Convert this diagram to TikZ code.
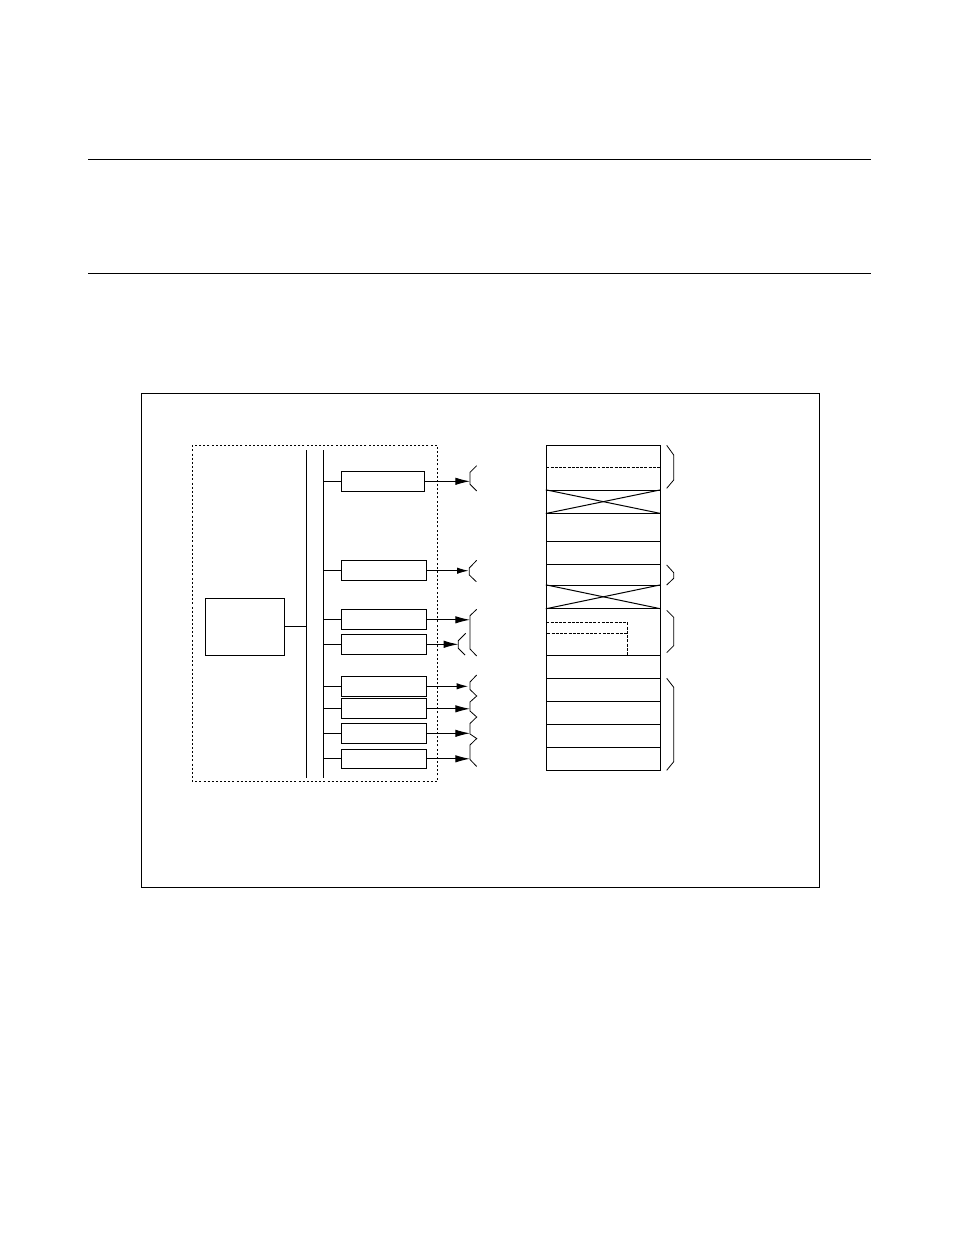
\documentclass[tikz,border=0pt]{standalone}
\usetikzlibrary{arrows.meta,fit}
\begin{document}
\begin{tikzpicture}[x=0.75pt,y=-0.75pt,line width=0.75pt,
  box/.style={draw,inner sep=0pt,line width=0.75pt},
  cell/.style={draw,inner sep=0pt,line width=0.75pt},
  bigarrow/.style={-{Latex[length=11pt,width=5.6pt]}},
  smallarrow/.style={-{Latex[length=8.5pt,width=4.8pt]}},
  ctrldash/.style={dash pattern=on 1.5pt off 1.6pt},
  memdash/.style={dash pattern=on 2.2pt off 1pt},
  plug/.style={line width=0.6pt}]
\useasboundingbox (0,0) rectangle (954,1235);
% page rules and frame
\draw (88.3,159.7) -- (871,159.7);
\draw (88.3,273.3) -- (871,273.3);
\draw (141.7,393.7) rectangle (819.3,887.3);
% dashed controller area
\draw[ctrldash] (192.3,445.3) rectangle (437.3,781.3);
% CPU
\node[box,fit={(205.3,598.3) (284.3,655.3)}] (cpu) {};
% bus lines
\coordinate (bus1t) at (306.7,450);
\coordinate (bus1b) at (306.7,778.3);
\coordinate (bus2t) at (323.3,450);
\coordinate (bus2b) at (323.3,778.3);
\draw (bus1t) -- (bus1b);
\draw (bus2t) -- (bus2b);
\draw (cpu.east) -- (cpu.east -| bus1t);
% peripheral boxes
\node[box,fit={(341.3,471.3) (424.7,491.3)}] (b1) {};
\node[box,fit={(341.3,560.7) (426.7,580.7)}] (b2) {};
\node[box,fit={(341.3,609.3) (426.7,629.3)}] (b3) {};
\node[box,fit={(341.3,634.3) (426.7,654.3)}] (b4) {};
\node[box,fit={(341.3,676.3) (426.7,696.3)}] (b5) {};
\node[box,fit={(341.3,698.3) (426.7,718.3)}] (b6) {};
\node[box,fit={(341.3,723.3) (426.7,743.3)}] (b7) {};
\node[box,fit={(341.3,749.3) (426.7,768.3)}] (b8) {};
\foreach \b in {b1,b2,b3,b4,b5,b6,b7,b8}
  \draw (\b.west -| bus2t) -- (\b.west);
% arrow targets
\coordinate (t1) at (470,481.3);
\coordinate (t2) at (468.5,570.7);
\coordinate (t3) at (470,619.8);
\coordinate (t4) at (458.3,644.3);
\coordinate (t5) at (468,686.3);
\coordinate (t6) at (470,708.8);
\coordinate (t7) at (470,733.3);
\coordinate (t8) at (470,758.8);
\draw[bigarrow] (b1.east) -- (t1);
\draw[smallarrow] (b2.east) -- (t2);
\draw[bigarrow] (b3.east |- t3) -- (t3);
\draw[bigarrow] (b4.east) -- (t4);
\draw[smallarrow] (b5.east) -- (t5);
\draw[bigarrow] (b6.east |- t6) -- (t6);
\draw[bigarrow] (b7.east) -- (t7);
\draw[bigarrow] (b8.east |- t8) -- (t8);
% connector symbols
\draw[plug] (476.7,465.7) -- (470,472.3) -- (470,484.3) -- (476.7,491);
\draw[plug] (476.7,560.3) -- (469.3,568) -- (469.3,575) -- (476.3,581.7);
\draw[plug] (476.7,609.3) -- (470,615.7) -- (470,649) -- (476.7,656);
\draw[plug] (465.7,633.3) -- (458.3,640.7) -- (458.3,648.3) -- (465,655);
\draw[plug] (476.7,675) -- (470,682) -- (470,689.5) -- (476.7,696)
  -- (470,702) -- (470,711) -- (476.7,717) -- (470,723.5) -- (470,734)
  -- (476.7,738.5) -- (470,745) -- (470,759.5) -- (476.7,766.5);
% memory map
\node[cell,fit={(546.3,445.3) (660.3,490.3)}] (c1) {};
\node[cell,fit={(546.3,490.3) (660.3,513)}] (c2) {};
\node[cell,fit={(546.3,513) (660.3,541.3)}] (c3) {};
\node[cell,fit={(546.3,541.3) (660.3,564.3)}] (c4) {};
\node[cell,fit={(546.3,564.3) (660.3,585.3)}] (c5) {};
\node[cell,fit={(546.3,585.3) (660.3,608.3)}] (c6) {};
\node[cell,fit={(546.3,608.3) (660.3,655.3)}] (c7) {};
\node[cell,fit={(546.3,655.3) (660.3,678.3)}] (c8) {};
\node[cell,fit={(546.3,678.3) (660.3,701.3)}] (c9) {};
\node[cell,fit={(546.3,701.3) (660.3,724.3)}] (c10) {};
\node[cell,fit={(546.3,724.3) (660.3,747.3)}] (c11) {};
\node[cell,fit={(546.3,747.3) (660.3,770.3)}] (c12) {};
\draw (c2.north west) -- (c2.south east);
\draw (c2.south west) -- (c2.north east);
\draw (c6.north west) -- (c6.south east);
\draw (c6.south west) -- (c6.north east);
\draw[memdash] (546.3,467.3) -- (660.3,467.3);
\draw[memdash] (546.3,622.3) -- (627.3,622.3) -- (627.3,655.3);
\draw[memdash] (547.3,633.3) -- (627.3,633.3);
% braces
\draw[plug] (666.7,445.3) -- (673.7,455) -- (673.7,480) -- (666.7,488.3);
\draw[plug] (666.7,565) -- (673.7,572.7) -- (673.7,578.3) -- (666.7,585);
\draw[plug] (666.7,610.3) -- (673.7,617.3) -- (673.7,645.7) -- (666.7,652.7);
\draw[plug] (666.7,678.3) -- (673.7,687.3) -- (673.7,761.7) -- (666.7,770.3);
\end{tikzpicture}
\end{document}
